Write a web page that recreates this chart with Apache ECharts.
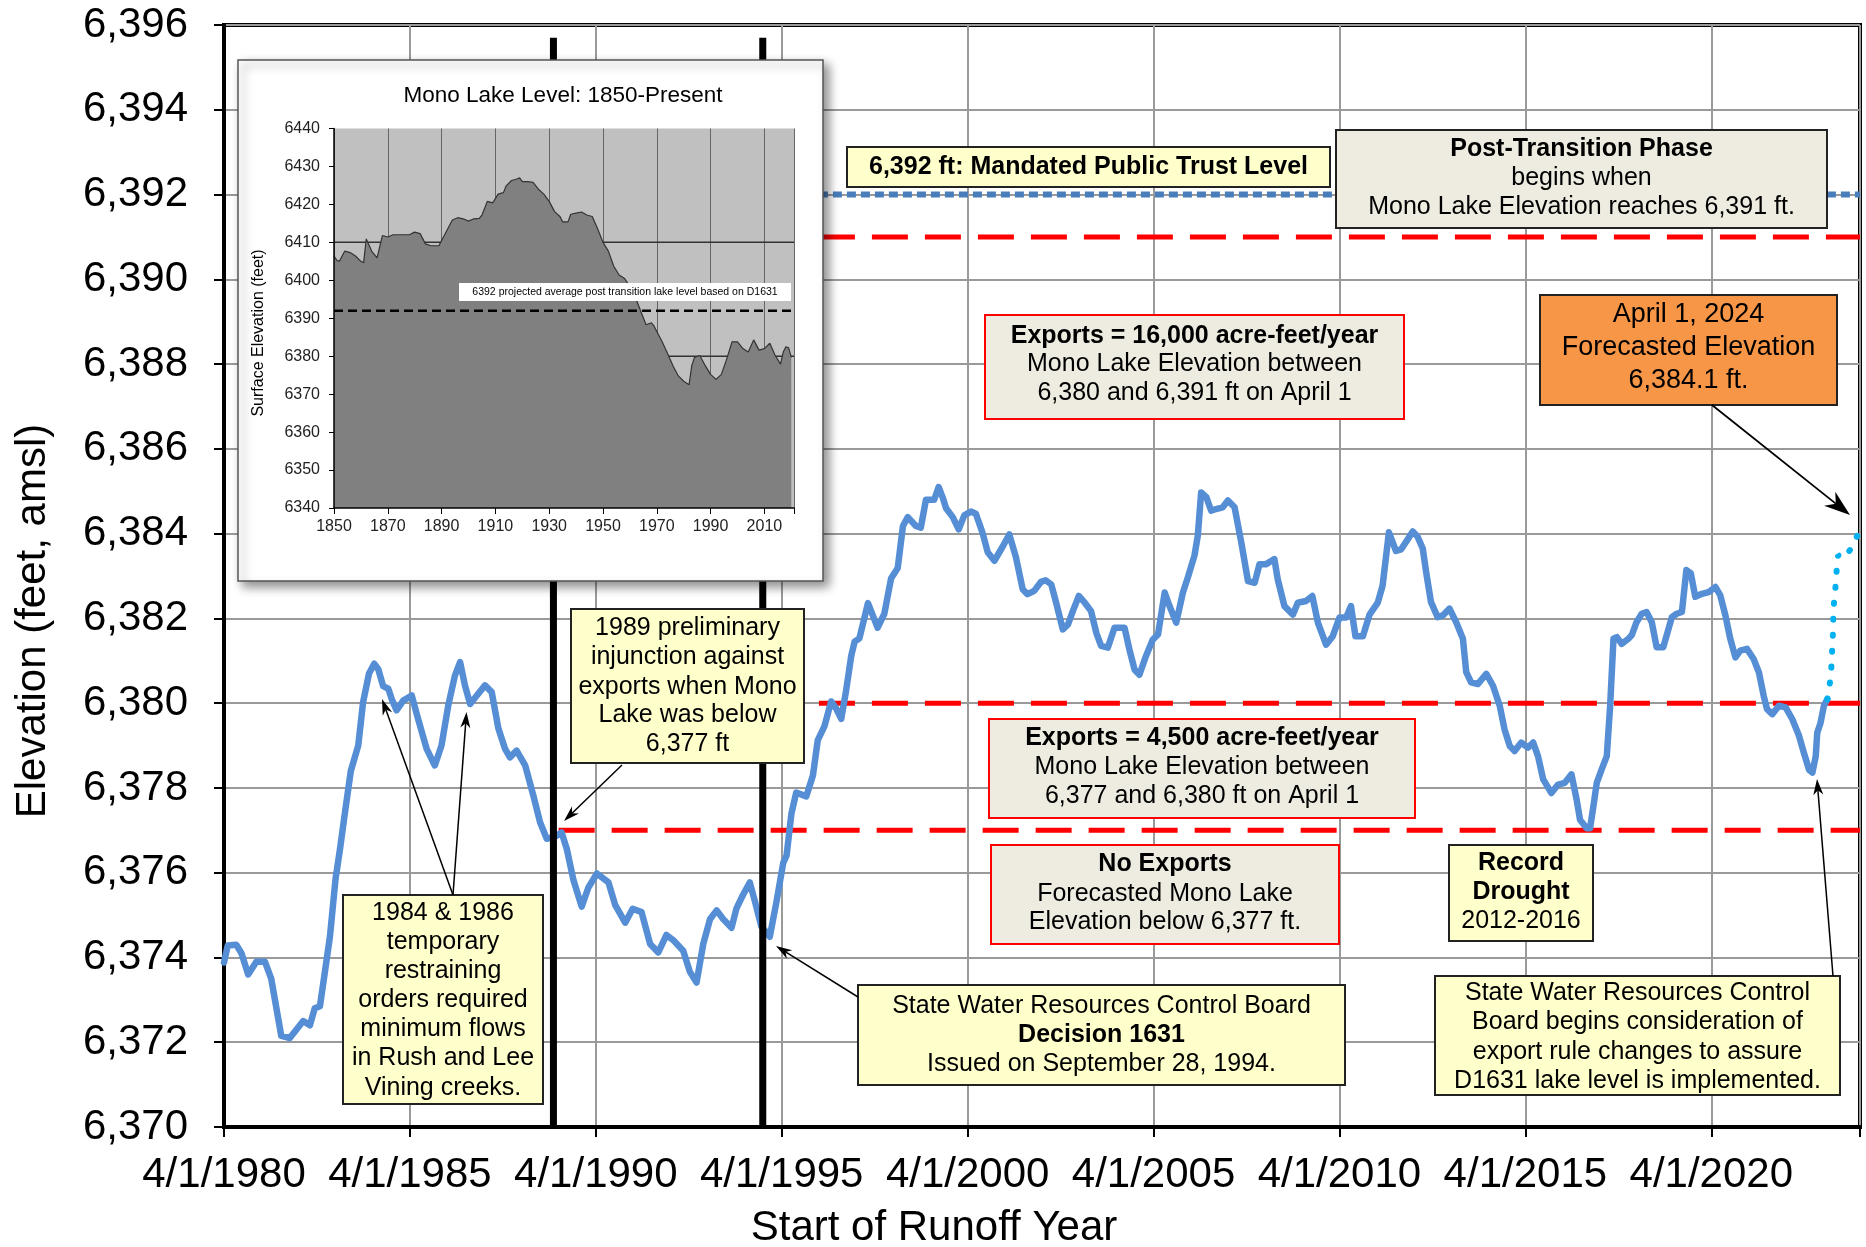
<!DOCTYPE html>
<html><head><meta charset="utf-8">
<script src="https://cdn.jsdelivr.net/npm/echarts@6/dist/echarts.min.js"></script>
<style>html,body{margin:0;padding:0;background:#fff;}#c{width:1866px;height:1247px;}</style>
</head><body><div id="c"></div>
<script>
// ---------- DATA ----------
// Observed Mono Lake elevation (x = runoff year, 1980.0 = 4/1/1980)
const obsYears = [1980.00,1980.10,1980.33,1980.47,1980.65,1980.87,1981.10,1981.27,1981.54,1981.77,1981.95,1982.13,1982.31,1982.44,1982.58,1982.72,1982.85,1983.00,1983.12,1983.25,1983.41,1983.61,1983.74,1983.90,1984.04,1984.15,1984.28,1984.42,1984.51,1984.64,1984.82,1985.05,1985.22,1985.45,1985.67,1985.85,1986.03,1986.21,1986.35,1986.48,1986.62,1986.80,1987.02,1987.20,1987.38,1987.56,1987.69,1987.87,1988.10,1988.32,1988.50,1988.68,1988.90,1989.08,1989.22,1989.40,1989.62,1989.80,1990.03,1990.34,1990.52,1990.79,1990.99,1991.23,1991.46,1991.68,1991.90,1992.08,1992.35,1992.53,1992.71,1992.89,1993.07,1993.25,1993.43,1993.65,1993.78,1993.96,1994.14,1994.28,1994.45,1994.68,1994.86,1995.04,1995.13,1995.26,1995.39,1995.66,1995.84,1995.97,1996.15,1996.33,1996.46,1996.60,1996.73,1996.87,1996.96,1997.09,1997.32,1997.58,1997.76,1997.94,1998.12,1998.26,1998.39,1998.61,1998.74,1998.88,1999.10,1999.22,1999.33,1999.42,1999.60,1999.76,1999.91,2000.09,2000.22,2000.40,2000.54,2000.72,2000.94,2001.12,2001.30,2001.48,2001.61,2001.79,2001.97,2002.10,2002.25,2002.38,2002.56,2002.70,2002.83,2002.99,2003.15,2003.32,2003.46,2003.59,2003.77,2003.95,2004.22,2004.35,2004.49,2004.62,2004.80,2004.98,2005.12,2005.30,2005.43,2005.61,2005.79,2005.92,2006.10,2006.19,2006.28,2006.42,2006.55,2006.68,2006.86,2007.00,2007.18,2007.36,2007.54,2007.72,2007.85,2008.03,2008.25,2008.34,2008.52,2008.75,2008.88,2009.10,2009.27,2009.42,2009.64,2009.82,2010.00,2010.18,2010.31,2010.43,2010.63,2010.81,2011.03,2011.16,2011.33,2011.52,2011.66,2011.84,2011.97,2012.10,2012.24,2012.33,2012.46,2012.64,2012.78,2012.96,2013.14,2013.32,2013.41,2013.54,2013.72,2013.95,2014.13,2014.31,2014.44,2014.58,2014.71,2014.89,2015.07,2015.21,2015.34,2015.48,2015.70,2015.88,2016.06,2016.24,2016.38,2016.47,2016.65,2016.74,2016.83,2016.92,2017.05,2017.19,2017.28,2017.37,2017.46,2017.59,2017.77,2017.86,2017.99,2018.13,2018.26,2018.40,2018.53,2018.71,2018.85,2018.94,2019.07,2019.21,2019.33,2019.45,2019.57,2019.75,2019.93,2020.11,2020.24,2020.38,2020.51,2020.65,2020.78,2020.96,2021.14,2021.28,2021.41,2021.50,2021.64,2021.82,2022.00,2022.18,2022.36,2022.49,2022.63,2022.72,2022.81,2022.85,2022.94,2023.03,2023.12];
const obsElev = [6373.88,6374.28,6374.30,6374.10,6373.60,6373.90,6373.90,6373.50,6372.15,6372.10,6372.30,6372.50,6372.40,6372.80,6372.85,6373.70,6374.50,6375.85,6376.56,6377.40,6378.40,6379.00,6380.02,6380.70,6380.93,6380.80,6380.40,6380.34,6380.10,6379.83,6380.06,6380.18,6379.63,6378.92,6378.53,6379.00,6379.94,6380.65,6380.97,6380.42,6379.98,6380.18,6380.42,6380.26,6379.40,6378.92,6378.72,6378.88,6378.53,6377.82,6377.19,6376.80,6376.85,6376.95,6376.56,6375.82,6375.20,6375.65,6375.98,6375.77,6375.24,6374.82,6375.15,6375.07,6374.32,6374.12,6374.53,6374.41,6374.16,6373.66,6373.41,6374.32,6374.90,6375.11,6374.90,6374.70,6375.15,6375.48,6375.77,6375.32,6374.74,6374.49,6375.32,6376.23,6376.40,6377.39,6377.89,6377.80,6378.30,6379.13,6379.46,6380.04,6379.88,6379.63,6380.29,6381.12,6381.45,6381.53,6382.36,6381.78,6382.11,6382.94,6383.19,6384.18,6384.39,6384.18,6384.14,6384.80,6384.80,6385.10,6384.85,6384.60,6384.39,6384.10,6384.43,6384.52,6384.47,6384.02,6383.56,6383.36,6383.69,6383.98,6383.44,6382.69,6382.57,6382.65,6382.86,6382.90,6382.80,6382.37,6381.74,6381.86,6382.17,6382.53,6382.37,6382.17,6381.66,6381.35,6381.31,6381.78,6381.78,6381.27,6380.79,6380.67,6381.12,6381.50,6381.62,6382.61,6382.29,6381.90,6382.61,6382.96,6383.48,6383.95,6384.97,6384.86,6384.54,6384.58,6384.62,6384.78,6384.62,6383.79,6382.88,6382.84,6383.28,6383.28,6383.40,6382.92,6382.29,6382.09,6382.37,6382.41,6382.53,6381.90,6381.38,6381.58,6382.02,6382.02,6382.29,6381.58,6381.58,6382.09,6382.37,6382.77,6384.03,6383.59,6383.63,6383.87,6384.05,6383.93,6383.65,6383.10,6382.39,6382.03,6382.07,6382.23,6381.91,6381.52,6380.73,6380.49,6380.45,6380.69,6380.41,6379.94,6379.38,6378.99,6378.87,6379.07,6378.95,6379.07,6378.75,6378.20,6377.88,6378.08,6378.12,6378.32,6377.72,6377.25,6377.05,6377.05,6377.57,6378.12,6378.43,6378.75,6379.94,6381.52,6381.56,6381.40,6381.52,6381.60,6381.91,6382.11,6382.15,6381.91,6381.32,6381.32,6381.75,6382.03,6382.11,6382.15,6383.14,6383.06,6382.51,6382.58,6382.62,6382.74,6382.55,6382.07,6381.52,6381.08,6381.24,6381.28,6381.04,6380.73,6380.17,6379.86,6379.74,6379.94,6379.90,6379.62,6379.23,6378.83,6378.43,6378.36,6378.75,6379.30,6379.54,6379.94,6380.09];
// Forecast to April 1, 2024
const fcYears = [2023.12,2023.19,2023.23,2023.25,2023.27,2023.28,2023.30,2023.34,2023.37,2023.41,2023.59,2023.81,2024.00];
const fcElev  = [6380.09,6380.47,6380.85,6381.23,6381.61,6381.99,6382.36,6382.74,6383.11,6383.49,6383.43,6383.72,6384.10];
// Export-rule thresholds (ft) and where each dashed line begins
const thresholdLevels = [6391, 6380, 6377];
const thresholdStarts = [1996.0, 1996.0, 1989.0];
const publicTrustLevel = 6392;
const publicTrustStart = 1996.0;
// Event markers (1989 injunction, D1631 on Sept 28, 1994)
const eventYears = [1988.86, 1994.49];
const eventTop = 6395.7;
// Main axis ranges / ticks
const xMin = 1980, xMax = 2024, xStep = 5;
const yMin = 6370, yMax = 6396, yStep = 2;

// Inset: Mono Lake level 1850-present
const histYears = [1850,1851,1852,1854,1856,1858,1860,1861,1862,1864,1866,1868,1870,1872,1875,1878,1880,1882,1884,1886,1889,1890,1892,1894,1896,1898,1900,1902,1904,1905,1907,1909,1911,1913,1914,1916,1918,1919,1920,1922,1924,1926,1928,1930,1932,1934,1935,1937,1938,1940,1942,1944,1946,1948,1950,1952,1954,1956,1958,1960,1962,1964,1966,1968,1969,1970,1972,1974,1976,1978,1980,1982,1983,1984,1986,1988,1990,1992,1994,1996,1998,2000,2002,2004,2006,2008,2010,2012,2014,2016,2017,2018,2019,2020];
const histElev = [6406.4,6405.3,6405.0,6407.7,6407.3,6406.4,6405.0,6404.6,6410.9,6407.7,6405.9,6411.8,6411.4,6412.0,6412.0,6412.0,6412.7,6412.3,6409.6,6409.1,6409.1,6410.5,6413.2,6415.9,6416.5,6416.2,6415.6,6416.2,6416.3,6417.2,6420.8,6420.4,6422.7,6423.1,6424.9,6426.3,6426.7,6427.0,6426.0,6426.0,6425.8,6424.0,6422.7,6420.8,6418.1,6416.8,6415.4,6415.4,6417.4,6417.7,6418.0,6417.2,6416.8,6413.6,6410.0,6407.7,6403.7,6401.4,6400.5,6398.3,6395.6,6391.9,6388.3,6388.8,6387.9,6386.5,6383.8,6380.7,6377.5,6374.8,6373.4,6372.5,6377.5,6379.7,6380.2,6377.5,6375.2,6373.9,6375.2,6379.3,6383.8,6383.8,6382.0,6381.1,6384.3,6381.6,6382.0,6383.4,6380.2,6377.9,6381.1,6382.5,6382.2,6379.7];
const insetRefLevels = [6410, 6380];
const insetProjected = 6392;
const insetXMin = 1850, insetXMax = 2021, insetXStep = 20;
const insetYMin = 6340, insetYMax = 6440, insetYStep = 10;

// ---------- CHART ----------
const FF = '"Liberation Sans", Arial, Helvetica, sans-serif';
const pairs = (xs, ys) => xs.map((x, i) => [x, ys[i]]);
const chart = echarts.init(document.getElementById('c'), null, {renderer: 'canvas', width: 1866, height: 1247});

function txt(x, y, s, fs, bold, z, extra) {
  return Object.assign({
    type: 'text', x: x, y: y, z: z || 101, silent: true,
    style: {text: s, fill: '#000', font: (bold ? 'bold ' : '') + fs + 'px ' + FF,
            textAlign: 'center', textVerticalAlign: 'middle', align: 'center', verticalAlign: 'middle'}
  }, extra || {});
}
function box(x, y, w, h, fill, stroke, lines, fs) {
  const els = [{type: 'rect', z: 100, silent: true, shape: {x: x, y: y, width: w, height: h},
                style: {fill: fill, stroke: stroke, lineWidth: 2}}];
  lines.forEach(l => els.push(txt(x + w / 2, l[1], l[0], fs || 25, l[2])));
  return els;
}
function arrow(x1, y1, x2, y2, L, W, lw) {
  const dx = x2 - x1, dy = y2 - y1, len = Math.hypot(dx, dy), ux = dx / len, uy = dy / len, nx = -uy, ny = ux;
  const bx = x2 - ux * L, by = y2 - uy * L, qx = x2 - ux * L * 0.7, qy = y2 - uy * L * 0.7;
  return [
    {type: 'line', z: 102, silent: true, shape: {x1: x1, y1: y1, x2: qx, y2: qy}, style: {stroke: '#000', lineWidth: lw || 1.5}},
    {type: 'polygon', z: 102, silent: true, shape: {points: [[x2, y2], [bx + nx * W / 2, by + ny * W / 2], [qx, qy], [bx - nx * W / 2, by - ny * W / 2]]}, style: {fill: '#000'}}
  ];
}

const YEL = '#FFFFCC', BEI = '#EEECE1', ORG = '#F79646', DK = '#222', RED = '#FF0000';
const graphics = [].concat(
  // inset panel
  [{type: 'rect', z: 10, silent: true, shape: {x: 238, y: 60, width: 585, height: 521},
    style: {fill: '#fff', stroke: '#555', lineWidth: 1.5, shadowBlur: 10, shadowOffsetX: 5, shadowOffsetY: 5, shadowColor: 'rgba(0,0,0,0.45)'}},
   {type: 'rect', z: 11, silent: true, shape: {x: 334, y: 128.5, width: 460, height: 379.5}, style: {fill: '#C0C0C0'}},
   txt(563, 96, 'Mono Lake Level: 1850-Present', 22.5, false, 16, {}),
   txt(259, 333, 'Surface Elevation (feet)', 16, false, 16, {rotation: Math.PI / 2}),
   {type: 'rect', z: 16, silent: true, shape: {x: 459, y: 283, width: 332, height: 18}, style: {fill: '#fff'}},
   txt(625, 292, '6392 projected average post transition lake level based on D1631', 10.5, false, 17, {})
  ],
  // axis titles
  [txt(33, 621, 'Elevation (feet, amsl)', 42, false, 50, {rotation: Math.PI / 2}),
   txt(934, 1228, 'Start of Runoff Year', 42, false, 50, {})],
  // annotation boxes
  box(847, 147, 483, 40, YEL, DK, [['6,392 ft: Mandated Public Trust Level', 167, true]]),
  box(1336, 130, 491, 98, BEI, DK, [['Post-Transition Phase', 149, true], ['begins when', 178], ['Mono Lake Elevation reaches 6,391 ft.', 207]]),
  box(985, 315, 419, 104, BEI, RED, [['Exports = 16,000 acre-feet/year', 336, true], ['Mono Lake Elevation between', 364], ['6,380 and 6,391 ft on April 1', 393]]),
  box(1540, 295, 297, 110, ORG, DK, [['April 1, 2024', 315], ['Forecasted Elevation', 348], ['6,384.1 ft.', 381]], 27),
  box(571, 609, 233, 154, YEL, DK, [['1989 preliminary', 628], ['injunction against', 657], ['exports when Mono', 687], ['Lake was below', 715], ['6,377 ft', 744]]),
  box(343, 895, 200, 209, YEL, DK, [['1984 & 1986', 913], ['temporary', 942], ['restraining', 971], ['orders required', 1000], ['minimum flows', 1029], ['in Rush and Lee', 1058], ['Vining creeks.', 1088]]),
  box(989, 719, 426, 99, BEI, RED, [['Exports = 4,500 acre-feet/year', 738, true], ['Mono Lake Elevation between', 767], ['6,377 and 6,380 ft on April 1', 796]]),
  box(991, 845, 348, 99, BEI, RED, [['No Exports', 864, true], ['Forecasted Mono Lake', 894], ['Elevation below 6,377 ft.', 922]]),
  box(1449, 845, 144, 96, YEL, DK, [['Record', 863, true], ['Drought', 892, true], ['2012-2016', 921]]),
  box(858, 985, 487, 100, YEL, DK, [['State Water Resources Control Board', 1006], ['Decision 1631', 1035, true], ['Issued on September 28, 1994.', 1064]]),
  box(1435, 976, 405, 119, YEL, DK, [['State Water Resources Control', 993], ['Board begins consideration of', 1022], ['export rule changes to assure', 1052], ['D1631 lake level is implemented.', 1081]]),
  // arrows
  arrow(1712, 405, 1850, 515, 26, 18, 1.8),
  arrow(622, 765, 564, 821, 16, 10),
  arrow(453, 895, 382, 699, 16, 10),
  arrow(453, 895, 466.5, 712, 16, 10),
  arrow(858, 997, 776, 946, 16, 10),
  arrow(1833, 976, 1817, 779, 16, 10)
);

const series = [];
thresholdLevels.forEach((lv, i) => series.push({
  type: 'line', xAxisIndex: 0, yAxisIndex: 0, silent: true, symbol: 'none', z: 3,
  data: [[thresholdStarts[i], lv], [xMax, lv]],
  lineStyle: {color: RED, width: 5, type: [36, 17]}
}));
series.push({type: 'line', xAxisIndex: 0, yAxisIndex: 0, silent: true, symbol: 'none', z: 3,
  data: [[publicTrustStart, publicTrustLevel], [xMax, publicTrustLevel]],
  lineStyle: {color: '#4A7EBB', width: 6, type: [9, 5]}});
series.push({type: 'line', xAxisIndex: 0, yAxisIndex: 0, silent: true, symbol: 'none', z: 4,
  data: pairs(obsYears, obsElev),
  lineStyle: {color: '#558ED5', width: 6.5, join: 'round', cap: 'round'}});
series.push({type: 'line', xAxisIndex: 0, yAxisIndex: 0, silent: true, symbol: 'none', z: 4,
  data: pairs(fcYears, fcElev),
  lineStyle: {color: '#00B0F0', width: 6, type: [1, 15], cap: 'round'}});
eventYears.forEach(yr => series.push({type: 'line', xAxisIndex: 0, yAxisIndex: 0, silent: true, symbol: 'none', z: 5,
  data: [[yr, yMin], [yr, eventTop]], lineStyle: {color: '#000', width: 7}}));
// inset series
insetRefLevels.forEach(lv => series.push({type: 'line', xAxisIndex: 1, yAxisIndex: 1, silent: true, symbol: 'none', z: 12,
  data: [[insetXMin, lv], [insetXMax, lv]], lineStyle: {color: '#333', width: 1.5}}));
series.push({type: 'line', xAxisIndex: 1, yAxisIndex: 1, silent: true, symbol: 'none', z: 13,
  data: pairs(histYears, histElev), lineStyle: {color: '#333', width: 1.2},
  areaStyle: {color: '#808080', opacity: 1, origin: 'start'}});
series.push({type: 'line', xAxisIndex: 1, yAxisIndex: 1, silent: true, symbol: 'none', z: 14,
  data: [[insetXMin, insetProjected], [insetXMax, insetProjected]], lineStyle: {color: '#000', width: 2.5, type: [9, 5]}});

chart.setOption({
  animation: false,
  backgroundColor: '#fff',
  grid: [
    {left: 224, right: 6, top: 25, bottom: 120, show: true, borderColor: '#000', borderWidth: 4, backgroundColor: 'transparent', containLabel: false, outerBoundsMode: 'none'},
    {left: 334, right: 1072, top: 128.5, bottom: 739, show: false, containLabel: false, outerBoundsMode: 'none'}
  ],
  xAxis: [
    {gridIndex: 0, type: 'value', min: xMin, max: xMax, interval: xStep, position: 'bottom',
     axisLine: {show: true, onZero: false, lineStyle: {color: '#000', width: 4}},
     axisTick: {show: true, length: 10, lineStyle: {color: '#000', width: 2}},
     axisLabel: {show: true, fontSize: 42, fontFamily: FF, color: '#000', margin: 27, hideOverlap: false,
       formatter: v => ((v - xMin) % xStep === 0) ? '4/1/' + v : ''},
     splitLine: {show: true, lineStyle: {color: '#9a9a9a', width: 2}}},
    {gridIndex: 1, type: 'value', min: insetXMin, max: insetXMax, interval: insetXStep, position: 'bottom', z: 12,
     axisLine: {show: false}, axisTick: {show: false}, axisLabel: {show: false},
     splitLine: {show: true, lineStyle: {color: '#666', width: 1}}},
    {gridIndex: 1, type: 'value', min: insetXMin, max: insetXMax, interval: insetXStep, position: 'bottom', z: 15,
     axisLine: {show: true, onZero: false, lineStyle: {color: '#000', width: 1.5}},
     axisTick: {show: true, length: 6, lineStyle: {color: '#000', width: 1}},
     axisLabel: {show: true, fontSize: 16, fontFamily: FF, color: '#222', margin: 11, hideOverlap: false,
       formatter: v => ((v - insetXMin) % insetXStep === 0) ? String(v) : ''},
     splitLine: {show: false}}
  ],
  yAxis: [
    {gridIndex: 0, type: 'value', min: yMin, max: yMax, interval: yStep,
     axisLine: {show: true, onZero: false, lineStyle: {color: '#000', width: 4}},
     axisTick: {show: true, length: 10, lineStyle: {color: '#000', width: 2}},
     axisLabel: {show: true, fontSize: 42, fontFamily: FF, color: '#000', margin: 36, hideOverlap: false,
       formatter: v => v.toLocaleString('en-US')},
     splitLine: {show: true, lineStyle: {color: '#9a9a9a', width: 2}}},
    {gridIndex: 1, type: 'value', min: insetYMin, max: insetYMax, interval: insetYStep, z: 15,
     axisLine: {show: true, onZero: false, lineStyle: {color: '#000', width: 1.5}},
     axisTick: {show: true, length: 5, lineStyle: {color: '#000', width: 1}},
     axisLabel: {show: true, fontSize: 16, fontFamily: FF, color: '#222', margin: 14, hideOverlap: false,
       formatter: v => String(v)},
     splitLine: {show: false}}
  ],
  graphic: {elements: graphics},
  series: series
});
</script>
</body></html>
